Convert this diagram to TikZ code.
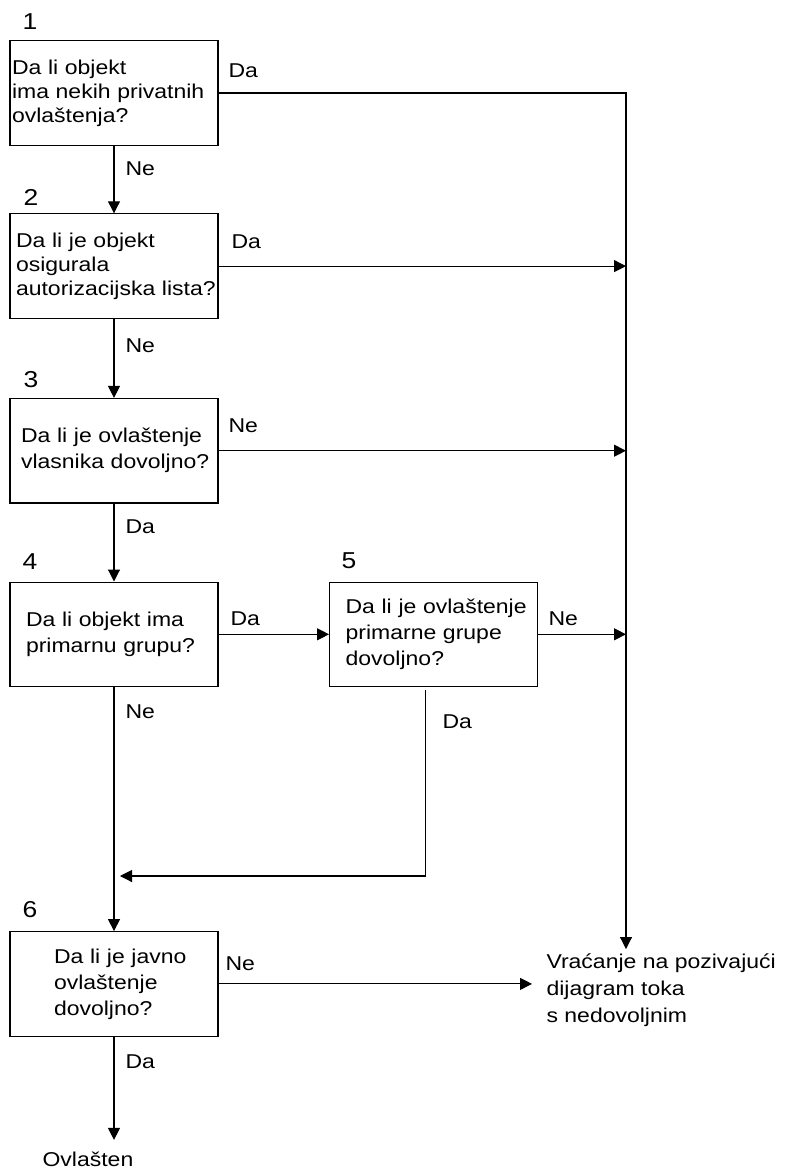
\documentclass[tikz,border=0pt]{standalone}
\usepackage{fontspec}
\setmainfont{Liberation Sans}[FakeStretch=1.15]
\usetikzlibrary {positioning}
\usetikzlibrary{arrows.meta}

\newcommand{\qindent}[1]{\leftskip=#1\rightskip=-30pt plus 1fil\hyphenpenalty=10000\relax}

\begin{document}
\begin{tikzpicture}[x=1pt, y=-1pt,
    font=\fontsize{20}{26}\selectfont,
    line width=1.1pt,
    box/.style={draw, rectangle, minimum width=208pt, minimum height=104.5pt,
        text width=208pt, inner xsep=0pt, align=left},
    tight/.style={font=\fontsize{20}{24}\selectfont},
    arr/.style={-{Triangle[length=12pt, width=12pt]}},
    lbl/.style={anchor=base west, inner sep=0pt},
    num/.style={anchor=base, inner sep=0pt, font=\fontsize{23}{26}\selectfont}]

    \useasboundingbox (0,0) rectangle (789,1168);

    \node[box, tight] (q1) at (114,93) {\qindent{2pt}Da li objekt\\ima nekih privatnih\\ovlaštenja?\par};
    \node[box, tight, below=67.5pt of q1] (q2) {\qindent{6pt}Da li je objekt\\osigurala\\autorizacijska lista?\par};
    \node[box, below=79pt of q2] (q3) {\qindent{11pt}Da li je ovlaštenje\\vlasnika dovoljno?\par};
    \node[box, below=78pt of q3] (q4) {\qindent{16pt}Da li objekt ima\\primarnu grupu?\par};
    \node[box, right=110.5pt of q4] (q5) {\qindent{16pt}Da li je ovlaštenje\\primarne grupe\\dovoljno?\par};
    \node[box, below=244pt of q4] (q6) {\qindent{44pt}Da li je javno\\ovlaštenje\\dovoljno?\par};

    \node[num] (n1) at (30,29) {1};
    \node[num] (n2) at (31,205) {2};
    \node[num] (n3) at (31,387) {3};
    \node[num] (n4) at (30,569) {4};
    \node[num] (n5) at (349,568) {5};
    \node[num] (n6) at (30,917) {6};

    \node[anchor=west, inner sep=0pt, align=left, font=\fontsize{20}{27}\selectfont] (back) at (546,990) {Vraćanje na pozivajući\\dijagram toka\\s nedovoljnim};
    \node[lbl] (auth) at (42,1166) {Ovlašten};

    \coordinate (bus) at (626,0);
    \coordinate (merge) at (120,876);

    % Da / Ne
    \node[lbl] (da1) at (228,77) {Da};
    \node[lbl] (ne1) at (125,175) {Ne};
    \node[lbl] (da2) at (231,248) {Da};
    \node[lbl] (ne2) at (125,352) {Ne};
    \node[lbl] (ne3) at (228,432) {Ne};
    \node[lbl] (da3) at (125,533) {Da};
    \node[lbl] (da4) at (230,625) {Da};
    \node[lbl] (ne4) at (125,718) {Ne};
    \node[lbl] (ne5) at (548,625) {Ne};
    \node[lbl] (da5) at (442,728) {Da};
    \node[lbl] (ne6) at (225,970) {Ne};
    \node[lbl] (da6) at (125,1068) {Da};

    \draw[arr] (q1) -- (q2);
    \draw[arr] (q2) -- (q3);
    \draw[arr] (q3) -- (q4);
    \draw[arr] (q4) -- (q5);
    \draw[arr] (q4) -- (q6);
    \draw[arr, shorten >=4pt] (q1.east) -| (bus |- back.north);
    \draw[arr] (q2.east) -- (q2.east -| bus);
    \draw[arr] (q3.east) -- (q3.east -| bus);
    \draw[arr] (q5.east) -- (q5.east -| bus);
    \draw[arr] ([xshift=-8pt, yshift=-3pt]q5.south) |- (merge);
    \draw[arr, shorten >=14pt] (q6) -- (q6 -| back.west);
    \draw[arr, shorten >=11pt] (q6) -- (q6 |- auth.north);

\end{tikzpicture}
\end{document}
